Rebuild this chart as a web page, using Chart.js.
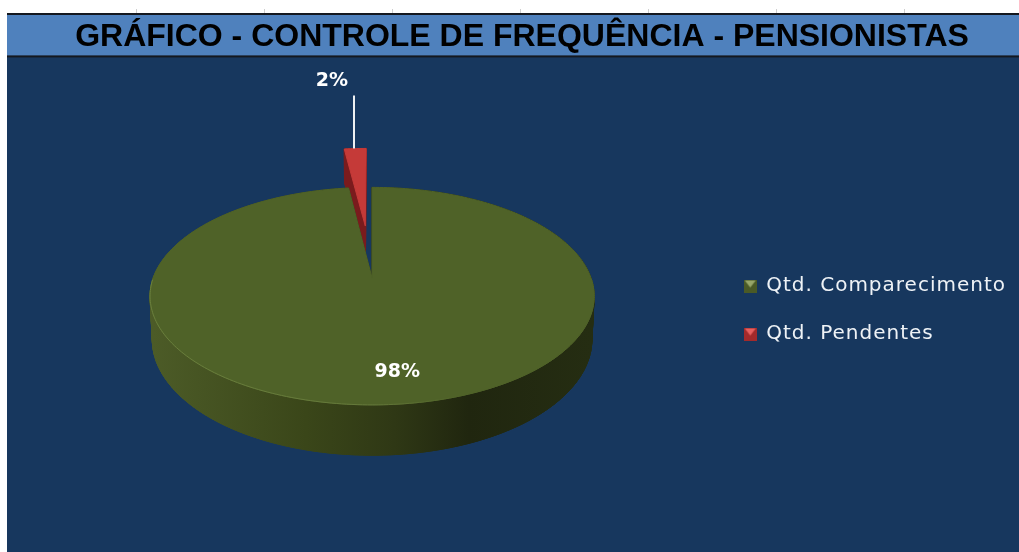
<!DOCTYPE html>
<html>
<head>
<meta charset="utf-8">
<title>Controle de frequência</title>
<script src="https://cdn.jsdelivr.net/npm/chart.js@4"></script>
<style>
  html, body { margin: 0; padding: 0; background: #fff; }
  #wrap { width: 1019px; height: 552px; }
</style>
</head>
<body>
<div id="wrap"><canvas id="pieChart" width="1019" height="552"></canvas></div>
<script>
const categorias = ['Qtd. Comparecimento', 'Qtd. Pendentes'];
const valores = [98, 2];
const offsets = [0, 118];
const corTopo = ['#4f6228', '#c53a38'];
const corLateral = [
  [[0, '#4c5b27'], [0.35, '#3a4619'], [0.55, '#2f3815'], [0.72, '#20260f'], [1, '#252d12']],
  [[0, '#7a1b1d'], [1, '#7a1b1d']]
];
const corIcone = [['#4a5a26', '#97a669'], ['#a32a2b', '#e8605f']];

// projecao do plano da pizza (com perspectiva)
const SQUASH = 0.483;
const PERSP = -0.165;
const DEPTH = 42;

function proj(el, dx, dy, baixo) {
  const w = 1 + PERSP * dy / el.outerRadius;
  return {
    x: el.x + (baixo ? 0.99 : 1) * dx / w,
    y: el.y + SQUASH * dy / w + (baixo ? DEPTH / w : 0)
  };
}

function amostras(el) {
  const meio = (el.startAngle + el.endAngle) / 2;
  const ox = Math.cos(meio) * el.options.offset;
  const oy = Math.sin(meio) * el.options.offset;
  const pts = [[ox, oy]];
  const n = Math.max(2, Math.ceil((el.endAngle - el.startAngle) / 0.02));
  for (let i = 0; i <= n; i++) {
    const a = el.startAngle + (el.endAngle - el.startAngle) * i / n;
    pts.push([ox + Math.cos(a) * el.outerRadius, oy + Math.sin(a) * el.outerRadius]);
  }
  return pts;
}

function preenche(ctx, pontos) {
  ctx.beginPath();
  pontos.forEach((p, i) => i ? ctx.lineTo(p.x, p.y) : ctx.moveTo(p.x, p.y));
  ctx.closePath();
  ctx.fill();
  ctx.stroke();
}

function icone(cores) {
  const c = document.createElement('canvas');
  c.width = 13; c.height = 13;
  const g = c.getContext('2d');
  g.fillStyle = cores[0];
  g.fillRect(0, 0, 13, 13);
  g.fillStyle = cores[1];
  g.beginPath();
  g.moveTo(1, 1); g.lineTo(12, 1); g.lineTo(6.5, 8);
  g.closePath();
  g.fill();
  return c;
}

const fundo = {
  id: 'fundo',
  beforeDraw(chart) {
    const ctx = chart.ctx;
    const t = chart.titleBlock;
    ctx.save();
    ctx.strokeStyle = '#cfcfcf';
    ctx.lineWidth = 1;
    for (let x = 136; x < chart.width; x += 128) {
      ctx.beginPath();
      ctx.moveTo(x + 0.5, 9);
      ctx.lineTo(x + 0.5, t.top);
      ctx.stroke();
    }
    ctx.fillStyle = '#17375e';
    ctx.fillRect(7, t.bottom, chart.width - 7, chart.height - t.bottom);
    ctx.fillStyle = '#4f81bd';
    ctx.fillRect(7, t.top, chart.width - 7, t.bottom - t.top);
    ctx.fillStyle = '#14181f';
    ctx.fillRect(7, t.top - 1, chart.width - 7, 2);
    ctx.fillRect(7, t.bottom - 1, chart.width - 7, 2);
    ctx.restore();
  }
};

const pizza3d = {
  id: 'pizza3d',
  beforeLayout(chart) {
    // legenda do original tem letras mais espacadas
    chart.ctx.letterSpacing = '1px';
  },
  afterLayout(chart) {
    chart.ctx.letterSpacing = '0px';
    chart.legend.top += 53;
    chart.legend.bottom += 53;
    chart.legend.left -= 3;
    chart.legend.right -= 3;
    if (!chart.legend.drawOriginal) {
      chart.legend.drawOriginal = chart.legend.draw;
      chart.legend.draw = function () {
        chart.ctx.letterSpacing = '1px';
        chart.legend.drawOriginal();
        chart.ctx.letterSpacing = '0px';
      };
    }
  },
  beforeDatasetsDraw(chart) {
    const ctx = chart.ctx;
    const arcos = chart.getDatasetMeta(0).data;
    ctx.save();
    // a fatia destacada fica atras da maior
    for (let i = arcos.length - 1; i >= 0; i--) {
      const el = arcos[i];
      const pts = amostras(el);
      const topo = pts.map(p => proj(el, p[0], p[1], false));
      const base = pts.map(p => proj(el, p[0], p[1], true));
      const grad = ctx.createLinearGradient(el.x - el.outerRadius, 0, el.x + el.outerRadius, 0);
      corLateral[i].forEach(s => grad.addColorStop(s[0], s[1]));
      ctx.fillStyle = grad;
      ctx.strokeStyle = grad;
      ctx.lineWidth = 1;
      preenche(ctx, base);
      for (let k = 0; k < pts.length; k++) {
        const j = (k + 1) % pts.length;
        preenche(ctx, [topo[k], topo[j], base[j], base[k]]);
      }
      ctx.fillStyle = corTopo[i];
      ctx.strokeStyle = corTopo[i];
      preenche(ctx, topo);
      if (i === 0) {
        // brilho na borda da frente
        const brilho = ctx.createLinearGradient(el.x - el.outerRadius, 0, el.x + el.outerRadius, 0);
        brilho.addColorStop(0, '#6a7f3c');
        brilho.addColorStop(0.5, '#64783a');
        brilho.addColorStop(0.7, '#4f6228');
        brilho.addColorStop(1, '#4f6228');
        ctx.strokeStyle = brilho;
        ctx.beginPath();
        let ini = false;
        pts.slice(1).forEach((p, k) => {
          if (p[1] > 0) {
            const q = topo[k + 1];
            ini ? ctx.lineTo(q.x, q.y) : ctx.moveTo(q.x, q.y);
            ini = true;
          }
        });
        ctx.stroke();
      }
    }
    ctx.restore();
    return false;
  },
  afterDraw(chart) {
    const ctx = chart.ctx;
    const arcos = chart.getDatasetMeta(0).data;
    const total = valores.reduce((a, b) => a + b, 0);
    ctx.save();
    ctx.font = 'bold 19px "DejaVu Sans"';
    ctx.fillStyle = '#ffffff';
    ctx.textAlign = 'center';
    ctx.textBaseline = 'middle';
    // rotulo da fatia grande
    const g = arcos[0];
    const mg = (g.startAngle + g.endAngle) / 2;
    const pg = proj(g, Math.cos(mg) * g.outerRadius * 0.77, Math.sin(mg) * g.outerRadius * 0.77, false);
    ctx.fillText(Math.round(valores[0] / total * 100) + '%', pg.x + 13, pg.y + 1);
    // rotulo da fatia destacada, com linha de chamada
    const r = arcos[1];
    const mr = (r.startAngle + r.endAngle) / 2;
    const raio = r.outerRadius + r.options.offset;
    const pr = proj(r, Math.cos(mr) * raio, Math.sin(mr) * raio, false);
    const xl = Math.round(pr.x) - 1;
    ctx.strokeStyle = '#eef0f2';
    ctx.lineWidth = 2;
    ctx.beginPath();
    ctx.moveTo(xl, pr.y);
    ctx.lineTo(xl, pr.y - 53);
    ctx.stroke();
    ctx.fillText(Math.round(valores[1] / total * 100) + '%', xl - 22, pr.y - 68);
    ctx.restore();
  }
};

new Chart(document.getElementById('pieChart'), {
  type: 'pie',
  data: {
    labels: categorias,
    datasets: [{
      data: valores,
      backgroundColor: corTopo,
      offset: offsets,
      borderWidth: 0
    }]
  },
  options: {
    responsive: false,
    animation: false,
    radius: 219,
    rotation: 0,
    layout: { padding: { left: 25, right: 0, top: 14, bottom: 52 } },
    plugins: {
      tooltip: { enabled: false },
      title: {
        display: true,
        text: 'GRÁFICO - CONTROLE DE FREQUÊNCIA - PENSIONISTAS',
        color: '#000000',
        font: { family: '"Liberation Sans"', size: 32, weight: 'bold' },
        padding: { top: 4, bottom: 0 }
      },
      legend: {
        position: 'right',
        labels: {
          color: '#eef2f6',
          font: { family: '"DejaVu Sans"', size: 20 },
          padding: 28,
          usePointStyle: true,
          boxWidth: 12,
          boxHeight: 13,
          generateLabels(chart) {
            return categorias.map((nome, i) => ({
              text: nome,
              fontColor: '#eef2f6',
              pointStyle: icone(corIcone[i]),
              lineWidth: 0,
              index: i
            }));
          }
        }
      }
    }
  },
  plugins: [fundo, pizza3d]
});
</script>
</body>
</html>
